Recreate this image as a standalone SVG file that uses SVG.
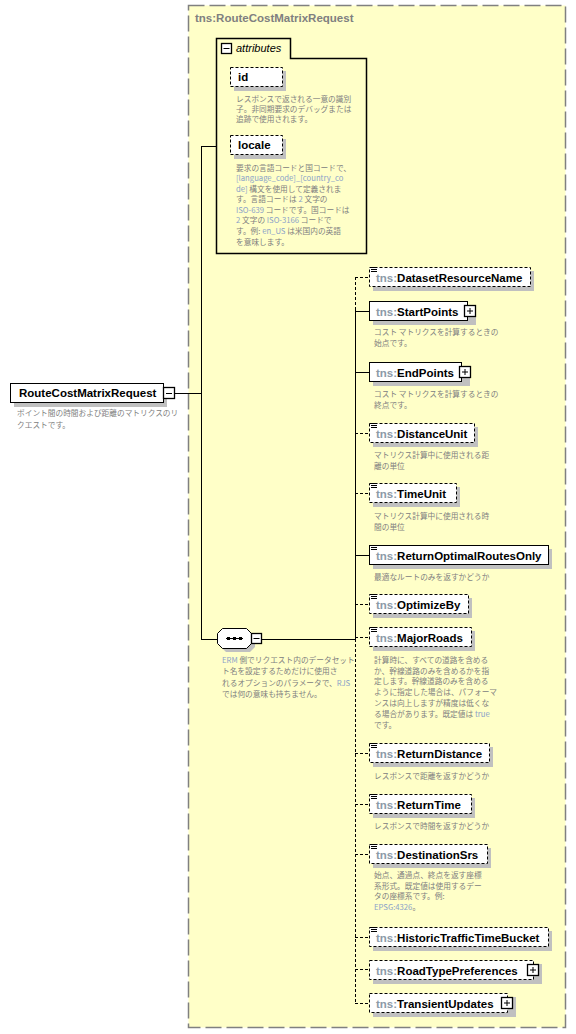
<svg xmlns="http://www.w3.org/2000/svg" width="576" height="1034" viewBox="0 0 576 1034">
<style>
.nm{font-family:"Liberation Sans",Arial,sans-serif;font-weight:bold;font-size:11.5px;fill:#000}
.pf{fill:#8c9aa8}
.ds{font-family:"Noto Sans CJK JP","Liberation Sans",sans-serif;font-size:7.7px;fill:#808080}
.lk{fill:#8aa2c8}
.box{fill:#fff;stroke:#000;stroke-width:1}
.opt{stroke-dasharray:3,2}
.sh{fill:#c0c0c0}
.ln{stroke:#000;stroke-width:1;fill:none}
.btn{fill:#fff;stroke:#000;stroke-width:1.3}
.ic{stroke:#000;stroke-width:1}
</style>
<rect x="0" y="0" width="576" height="1034" fill="#fff"/>
<g id="complexType">
<rect x="188.5" y="5.5" width="377" height="1022" fill="#ffffc8" stroke="#808080" stroke-width="1.5" stroke-dasharray="16,5"/>
<text x="195" y="22" class="nm" style="fill:#808080">tns:RouteCostMatrixRequest</text>
</g>
<g id="connectors">
<path class="ln" d="M175,393.5 H201.5 M201.5,146 V639 M201,146.5 H216 M201,639.5 H217 M262,639.5 H355.5 M355.5,310 V639"/>
<path class="ln opt" d="M355.5,277 V310 M355.5,639 V1003"/>
<path class="ln opt" d="M355,277.5 H369 M355,433.5 H369 M355,493.5 H369 M355,604.5 H369 M355,637.5 H369 M355,753.5 H369 M355,804.5 H369 M355,854.5 H369 M355,937.5 H369 M355,969.5 H369 M355,1003.5 H369"/>
<path class="ln" d="M355,311.5 H369 M355,372.5 H369 M355,555.5 H369"/>
</g>
<g id="root">
<rect class="sh" x="14" y="387" width="153" height="20"/>
<rect class="box" x="10.5" y="383.5" width="153" height="19"/>
<text class="nm" x="19" y="397">RouteCostMatrixRequest</text>
<rect class="btn" x="163.5" y="387.5" width="11" height="11"/>
<path class="ic" d="M166,393.5 H172"/>
<text class="ds" x="17" y="416">ポイント間の時間および距離のマトリクスのリ</text>
<text class="ds" x="17" y="428">クエストです。</text>
</g>
<g id="attributes">
<path d="M216.5,38.5 H290.5 V58.5 H366.5 V253.5 H216.5 Z" fill="#ffffc8" stroke="#000" stroke-width="1.5"/>
<rect class="btn" x="221.5" y="43.5" width="10" height="10"/>
<path class="ic" d="M223.5,48.5 H229.5"/>
<text x="236" y="52" style="font-family:'Liberation Sans',Arial,sans-serif;font-style:italic;font-size:11px;fill:#000">attributes</text>
</g>
<g id="attr-id">
<rect class="sh" x="234" y="71" width="52" height="20"/>
<rect class="box opt" x="230.5" y="67.5" width="52" height="19"/>
<text class="nm" x="238" y="81">id</text>
<text class="ds" x="236" y="102">レスポンスで返される一意の識別</text>
<text class="ds" x="236" y="112">子。非同期要求のデバッグまたは</text>
<text class="ds" x="236" y="122">追跡で使用されます。</text>
</g>
<g id="attr-locale">
<rect class="sh" x="234" y="139" width="52" height="20"/>
<rect class="box opt" x="230.5" y="135.5" width="52" height="19"/>
<text class="nm" x="238" y="149">locale</text>
<text class="ds" x="236" y="171">要求の言語コードと国コードで、</text>
<text class="ds" x="236" y="181"><tspan class="lk">[language_code]_[country_co</tspan></text>
<text class="ds" x="236" y="192"><tspan class="lk">de]</tspan> 構文を使用して定義されま</text>
<text class="ds" x="236" y="202">す。言語コードは <tspan class="lk">2</tspan> 文字の</text>
<text class="ds" x="236" y="213"><tspan class="lk">ISO-639</tspan> コードです。国コードは</text>
<text class="ds" x="236" y="223"><tspan class="lk">2</tspan> 文字の <tspan class="lk">ISO-3166</tspan> コードで</text>
<text class="ds" x="236" y="234">す。例: <tspan class="lk">en_US</tspan> は米国内の英語</text>
<text class="ds" x="236" y="245">を意味します。</text>
</g>
<g id="sequence">
<path class="sh" d="M226,632 H250 L255,637 V647 L250,652 H226 L221,647 V637 Z"/>
<path d="M222.5,628.5 H246.5 L251.5,633.5 V643.5 L246.5,648.5 H222.5 L217.5,643.5 V633.5 Z" fill="#fff" stroke="#000"/>
<path class="ic" d="M226,638.5 H243"/>
<rect x="227" y="637" width="3" height="3"/>
<rect x="233" y="637" width="3" height="3"/>
<rect x="239" y="637" width="3" height="3"/>
<rect class="btn" x="251.5" y="633.5" width="10" height="10"/>
<path class="ic" d="M253.5,638.5 H259.5"/>
<text class="ds" x="222" y="663"><tspan class="lk">ERM</tspan> 側でリクエスト内のデータセット</text>
<text class="ds" x="222" y="674">ト名を設定するためだけに使用さ</text>
<text class="ds" x="222" y="686">れるオプションのパラメータで、<tspan class="lk">RJS</tspan></text>
<text class="ds" x="222" y="697">では何の意味も持ちません。</text>
</g>
<g id="DatasetResourceName">
<rect class="sh" x="373" y="271" width="161" height="20"/>
<rect class="box opt" x="369.5" y="267.5" width="161" height="19"/>
<path class="ic" d="M371,267.5 H377 M371,269.5 H377 M371,271.5 H377"/>
<text class="nm" x="376" y="282"><tspan class="pf">tns:</tspan>DatasetResourceName</text>
</g>
<g id="StartPoints">
<rect class="sh" x="373" y="305" width="103" height="20"/>
<rect class="box" x="369.5" y="301.5" width="98" height="19"/>
<text class="nm" x="376" y="316"><tspan class="pf">tns:</tspan>StartPoints</text>
<rect class="btn" x="464.5" y="305.5" width="11" height="11"/>
<path class="ic" d="M467,311 H473 M470,308 V314"/>
<text class="ds" x="374" y="335">コスト マトリクスを計算するときの</text>
<text class="ds" x="374" y="346">始点です。</text>
</g>
<g id="EndPoints">
<rect class="sh" x="373" y="366" width="97" height="20"/>
<rect class="box" x="369.5" y="362.5" width="92" height="19"/>
<text class="nm" x="376" y="377"><tspan class="pf">tns:</tspan>EndPoints</text>
<rect class="btn" x="459.5" y="366.5" width="11" height="11"/>
<path class="ic" d="M462,372 H468 M465,369 V375"/>
<text class="ds" x="374" y="397">コスト マトリクスを計算するときの</text>
<text class="ds" x="374" y="408">終点です。</text>
</g>
<g id="DistanceUnit">
<rect class="sh" x="373" y="427" width="105" height="20"/>
<rect class="box opt" x="369.5" y="423.5" width="105" height="19"/>
<path class="ic" d="M371,423.5 H377 M371,425.5 H377 M371,427.5 H377"/>
<text class="nm" x="376" y="438"><tspan class="pf">tns:</tspan>DistanceUnit</text>
<text class="ds" x="374" y="458">マトリクス計算中に使用される距</text>
<text class="ds" x="374" y="469">離の単位</text>
</g>
<g id="TimeUnit">
<rect class="sh" x="373" y="487" width="87" height="20"/>
<rect class="box opt" x="369.5" y="483.5" width="87" height="19"/>
<path class="ic" d="M371,483.5 H377 M371,485.5 H377 M371,487.5 H377"/>
<text class="nm" x="376" y="498"><tspan class="pf">tns:</tspan>TimeUnit</text>
<text class="ds" x="374" y="519">マトリクス計算中に使用される時</text>
<text class="ds" x="374" y="530">間の単位</text>
</g>
<g id="ReturnOptimalRoutesOnly">
<rect class="sh" x="373" y="549" width="179" height="20"/>
<rect class="box" x="369.5" y="545.5" width="179" height="19"/>
<path class="ic" d="M371,545.5 H377 M371,547.5 H377 M371,549.5 H377"/>
<text class="nm" x="376" y="560"><tspan class="pf">tns:</tspan>ReturnOptimalRoutesOnly</text>
<text class="ds" x="374" y="580">最適なルートのみを返すかどうか</text>
</g>
<g id="OptimizeBy">
<rect class="sh" x="373" y="598" width="99" height="20"/>
<rect class="box opt" x="369.5" y="594.5" width="99" height="19"/>
<path class="ic" d="M371,594.5 H377 M371,596.5 H377 M371,598.5 H377"/>
<text class="nm" x="376" y="609"><tspan class="pf">tns:</tspan>OptimizeBy</text>
</g>
<g id="MajorRoads">
<rect class="sh" x="373" y="631" width="102" height="20"/>
<rect class="box opt" x="369.5" y="627.5" width="102" height="19"/>
<path class="ic" d="M371,627.5 H377 M371,629.5 H377 M371,631.5 H377"/>
<text class="nm" x="376" y="642"><tspan class="pf">tns:</tspan>MajorRoads</text>
<text class="ds" x="374" y="663">計算時に、すべての道路を含める</text>
<text class="ds" x="374" y="674">か、幹線道路のみを含めるかを指</text>
<text class="ds" x="374" y="684">定します。幹線道路のみを含める</text>
<text class="ds" x="374" y="695">ように指定した場合は、パフォーマ</text>
<text class="ds" x="374" y="706">ンスは向上しますが精度は低くな</text>
<text class="ds" x="374" y="717">る場合があります。既定値は <tspan class="lk">true</tspan></text>
<text class="ds" x="374" y="728">です。</text>
</g>
<g id="ReturnDistance">
<rect class="sh" x="373" y="747" width="120" height="20"/>
<rect class="box opt" x="369.5" y="743.5" width="120" height="19"/>
<path class="ic" d="M371,743.5 H377 M371,745.5 H377 M371,747.5 H377"/>
<text class="nm" x="376" y="758"><tspan class="pf">tns:</tspan>ReturnDistance</text>
<text class="ds" x="374" y="779">レスポンスで距離を返すかどうか</text>
</g>
<g id="ReturnTime">
<rect class="sh" x="373" y="798" width="102" height="20"/>
<rect class="box opt" x="369.5" y="794.5" width="102" height="19"/>
<path class="ic" d="M371,794.5 H377 M371,796.5 H377 M371,798.5 H377"/>
<text class="nm" x="376" y="809"><tspan class="pf">tns:</tspan>ReturnTime</text>
<text class="ds" x="374" y="829">レスポンスで時間を返すかどうか</text>
</g>
<g id="DestinationSrs">
<rect class="sh" x="373" y="848" width="118" height="20"/>
<rect class="box opt" x="369.5" y="844.5" width="118" height="19"/>
<path class="ic" d="M371,844.5 H377 M371,846.5 H377 M371,848.5 H377"/>
<text class="nm" x="376" y="859"><tspan class="pf">tns:</tspan>DestinationSrs</text>
<text class="ds" x="374" y="878">始点、通過点、終点を返す座標</text>
<text class="ds" x="374" y="889">系形式。既定値は使用するデー</text>
<text class="ds" x="374" y="899">タの座標系です。例:</text>
<text class="ds" x="374" y="910"><tspan class="lk">EPSG:4326</tspan>。</text>
</g>
<g id="HistoricTrafficTimeBucket">
<rect class="sh" x="373" y="931" width="179" height="20"/>
<rect class="box opt" x="369.5" y="927.5" width="179" height="19"/>
<path class="ic" d="M371,927.5 H377 M371,929.5 H377 M371,931.5 H377"/>
<text class="nm" x="376" y="942"><tspan class="pf">tns:</tspan>HistoricTrafficTimeBucket</text>
</g>
<g id="RoadTypePreferences">
<rect class="sh" x="373" y="964" width="169" height="20"/>
<rect class="box opt" x="369.5" y="960.5" width="164" height="19"/>
<text class="nm" x="376" y="975"><tspan class="pf">tns:</tspan>RoadTypePreferences</text>
<rect class="btn" x="527.5" y="964.5" width="11" height="11"/>
<path class="ic" d="M530,970 H536 M533,967 V973"/>
</g>
<g id="TransientUpdates">
<rect class="sh" x="373" y="997" width="143" height="20"/>
<rect class="box opt" x="369.5" y="993.5" width="138" height="19"/>
<text class="nm" x="376" y="1008"><tspan class="pf">tns:</tspan>TransientUpdates</text>
<rect class="btn" x="501.5" y="997.5" width="11" height="11"/>
<path class="ic" d="M504,1003 H510 M507,1000 V1006"/>
</g>
</svg>
